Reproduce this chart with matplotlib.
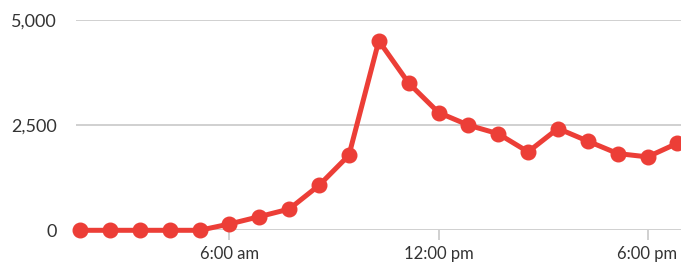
import matplotlib.pyplot as plt

plt.rcParams['font.family'] = ['Lato', 'DejaVu Sans']

# hourly-ish steps, 21 samples
values = [0, 0, 0, 0, 0, 150, 325, 505, 1070, 1785, 4505,
          3500, 2800, 2500, 2295, 1865, 2420, 2120, 1825, 1745, 2070]
tick_pos = [5, 12, 19]
tick_labels = ['6:00 am', '12:00 pm', '6:00 pm']
y_ticks = [0, 2500, 5000]
y_labels = ['0', '2,500', '5,000']

fig = plt.figure(figsize=(6.81, 2.63), dpi=100)
ax = fig.add_axes([76 / 681, (263 - 230.3) / 263, 1 - 76 / 681, (230.3 - 20) / 263])

x = list(range(len(values)))
ax.plot(x, values, color='#ec3e37', lw=3.6, marker='o', markersize=10.5,
        solid_capstyle='round', zorder=3, clip_on=False)

ax.set_xlim(-0.14, 20.12)
ax.set_ylim(0, 5000)

ax.set_yticks(y_ticks)
ax.set_yticklabels(y_labels)
ax.set_xticks(tick_pos)
ax.set_xticklabels(tick_labels)

ax.grid(axis='y', color='#c8c8c8', lw=1.2)
ax.set_axisbelow(True)
for s in ['top', 'right', 'left', 'bottom']:
    ax.spines[s].set_visible(False)

ax.tick_params(axis='y', length=0, pad=14, labelsize=13, labelcolor='#333333')
ax.tick_params(axis='x', length=7, width=1.2, color='#c8c8c8', pad=4,
               labelsize=12, labelcolor='#333333')

fig.savefig('out.png', dpi=100)
